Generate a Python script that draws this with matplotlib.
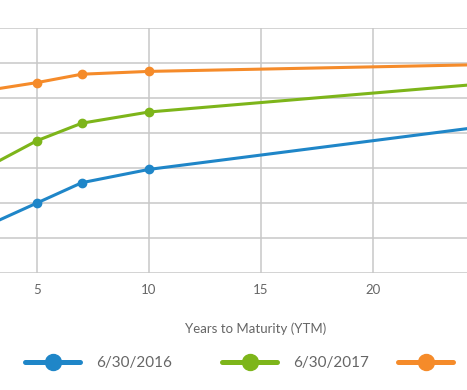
import matplotlib
matplotlib.use("Agg")
import matplotlib.pyplot as plt
from matplotlib.lines import Line2D

maturities = [3, 5, 7, 10, 30]
yields_2016 = [0.71, 1.00, 1.29, 1.48, 2.30]
yields_2017 = [1.55, 1.89, 2.14, 2.30, 2.84]
yields_2018 = [2.62, 2.72, 2.84, 2.88, 3.01]
labels = ["6/30/2016", "6/30/2017", "6/30/2018"]
colors = ["#1f86c8", "#7db51a", "#f58b2a"]
x_ticks = [5, 10, 15, 20]
y_grid = [0, 0.5, 1.0, 1.5, 2.0, 2.5, 3.0, 3.5]

plt.rcParams['font.family'] = ['Lato', 'DejaVu Sans']

W, H = 467, 390
fig = plt.figure(figsize=(W / 100, H / 100), dpi=100)
ax = fig.add_axes([0, 1 - 273 / H, 1, (273 - 28) / H])

series = [yields_2016, yields_2017, yields_2018]
for vals, c in zip(series, colors):
    ax.plot(maturities, vals, color=c, lw=2.2, marker='o', ms=6, zorder=3,
            solid_capstyle='round')

ax.set_xlim(3.35, 24.2)
ax.set_ylim(0, 3.5)
ax.set_xticks(x_ticks)
ax.set_yticks(y_grid)
ax.set_yticklabels([])
ax.tick_params(axis='both', length=0)
ax.tick_params(axis='x', pad=8, labelsize=9.5, labelcolor='#666666')
ax.grid(True, color='#c8c8c8', lw=1.1)
for s in ax.spines.values():
    s.set_visible(False)
ax.set_clip_on(False)

fig.text(256 / W, 1 - 329 / H, "Years to Maturity (YTM)", ha='center', va='center',
         fontsize=9.5, color='#666666')

anchors = [25, 222, 398]
for lab, c, xa in zip(labels, colors, anchors):
    h = Line2D([], [], color=c, lw=3.6, marker='o', ms=11.5, solid_capstyle='round')
    fig.legend(handles=[h], labels=[lab], loc='center left',
               bbox_to_anchor=(xa / W, 1 - 363 / H), frameon=False,
               borderpad=0, borderaxespad=0, handlelength=3.6, handletextpad=1.05,
               fontsize=11, labelcolor='#666666')

fig.savefig("out.png", dpi=100)
